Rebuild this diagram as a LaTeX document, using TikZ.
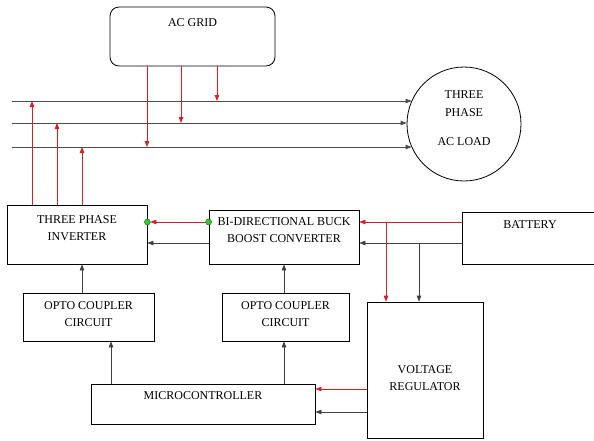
\documentclass[tikz,border=0pt]{standalone}
\usepackage{fontspec}
\setmainfont{Liberation Serif}
\usetikzlibrary{arrows.meta}
\definecolor{flowred}{RGB}{214,32,38}
\definecolor{dotgreen}{RGB}{46,204,46}
\newcommand{\padbelow}[1]{\rule[-#1]{0pt}{#1}}
\newcommand{\padabove}[1]{\rule{0pt}{#1}}
\begin{document}
\begin{tikzpicture}[
x=1pt, y=-1pt,
>={Triangle[length=6pt,width=4.5pt]},
block/.style={
draw,
line width=0.8pt,
inner sep=0pt,
align=center,
font=\fontsize{12}{17}\selectfont
},
signal/.style={->, line width=0.8pt, draw=black!75},
power/.style={->, line width=0.8pt, draw=flowred},
bus/.style={->, line width=0.9pt, draw=black!70},
junction/.style={fill=dotgreen, draw=black!50!dotgreen, line width=0.4pt}
]
\useasboundingbox (0,0) rectangle (594,440);
\node[block, rounded corners=9pt, minimum width=165pt, minimum height=59pt] (grid) at (192.5,36.5) {AC GRID\padbelow{27pt}};
\node[block, circle, minimum size=114pt, font=\fontsize{12}{18}\selectfont] (load) at (464,124) {THREE\\PHASE\\[11pt]AC LOAD\padbelow{11pt}};
\node[block, minimum width=140pt, minimum height=59pt] (inverter) at (77,234.5) {THREE PHASE\\INVERTER\padbelow{12pt}};
\node[block, minimum width=150pt, minimum height=54pt] (buck) at (284,237) {BI-DIRECTIONAL BUCK\\BOOST CONVERTER\padbelow{13pt}};
\node[block, minimum width=136pt, minimum height=52pt] (battery) at (530,238) {BATTERY\padbelow{26pt}};
\node[block, minimum width=131pt, minimum height=48pt] (opto1) at (88.5,317) {OPTO COUPLER\\CIRCUIT\padbelow{6pt}};
\node[block, minimum width=127pt, minimum height=48pt] (opto2) at (285.5,317) {OPTO COUPLER\\CIRCUIT\padbelow{6pt}};
\node[block, minimum width=224pt, minimum height=40pt] (micro) at (203,404) {MICROCONTROLLER\padbelow{16pt}};
\node[block, minimum width=116pt, minimum height=136pt] (regulator) at (425,370) {\padabove{23.6pt}VOLTAGE\\REGULATOR};
\coordinate (l1) at (12,101);
\coordinate (l2) at (12,123);
\coordinate (l3) at (12,147);
\coordinate (tapred) at (386,222);
\coordinate (tapblack) at (419,243);
\draw[bus] (l1) -- (l1 -| load.156);
\draw[bus] (l2) -- (l2 -| load.west);
\draw[bus] (l3) -- (l3 -| load.204);
\foreach \x/\l in {147/l3, 181/l2, 217/l1}
  \draw[power] (grid.south -| \x,0) -- (\l -| \x,0);
\foreach \x/\l in {32/l1, 57/l2, 82/l3}
  \draw[power] (inverter.north -| \x,0) -- (\l -| \x,0);
\draw[power, shorten >=3pt] (buck.west |- 0,222) -- (inverter.east |- 0,222);
\draw[signal] (buck.west |- 0,243) -- (inverter.east |- 0,243);
\filldraw[junction] (buck.west |- 0,222) circle (3pt) (inverter.east |- 0,222) circle (3pt);
\draw[power] (battery.west |- 0,222) -- (buck.east |- 0,222);
\draw[signal] (battery.west |- 0,243) -- (buck.east |- 0,243);
\draw[power] (tapred) -- (regulator.north -| tapred);
\draw[signal] (tapblack) -- (regulator.north -| tapblack);
\draw[signal] (opto1.north -| 82,0) -- (inverter.south -| 82,0);
\draw[signal] (opto2.north -| 284,0) -- (buck.south -| 284,0);
\draw[signal] (micro.north -| 111,0) -- (opto1.south -| 111,0);
\draw[signal] (micro.north -| 284,0) -- (opto2.south -| 284,0);
\draw[power] (regulator.west |- 0,389) -- (micro.east |- 0,389);
\draw[signal] (regulator.west |- 0,412) -- (micro.east |- 0,412);
\end{tikzpicture}
\end{document}
